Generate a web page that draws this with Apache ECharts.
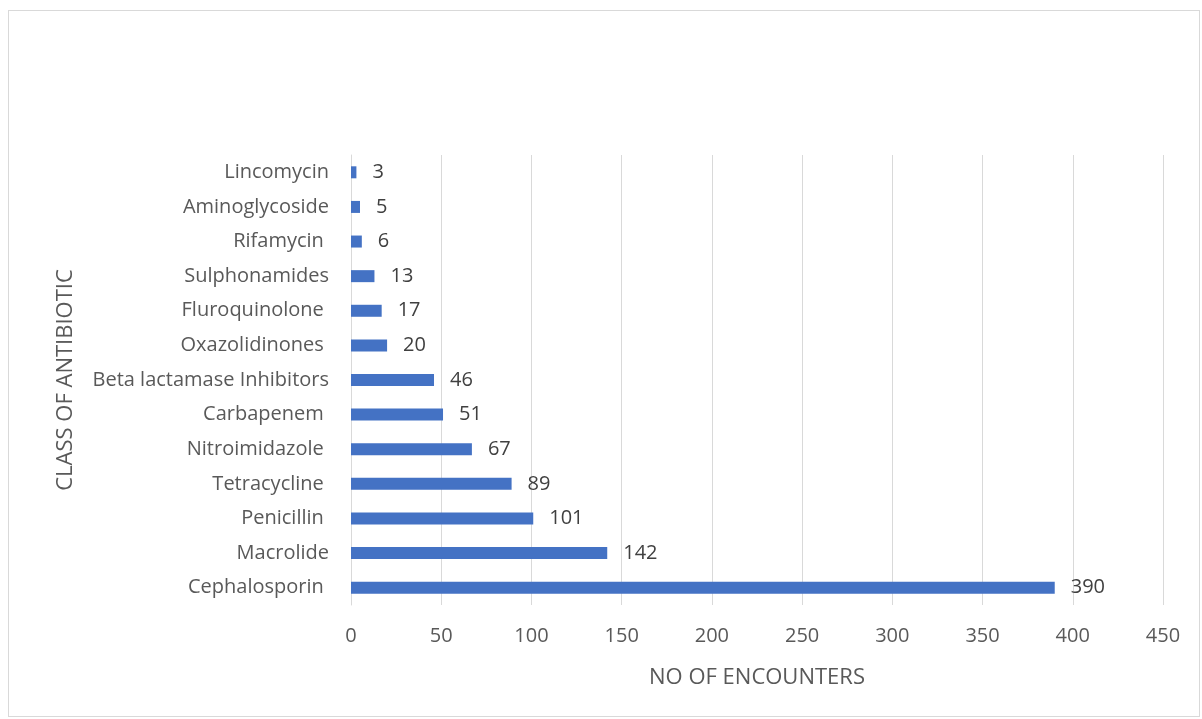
<!DOCTYPE html>
<html>
<head>
<meta charset="utf-8">
<script src="https://cdn.jsdelivr.net/npm/echarts@6/dist/echarts.min.js"></script>
<style>
  html, body { margin: 0; padding: 0; background: #fff; }
  #frame { position: absolute; left: 8px; top: 10px; width: 1192px; height: 707px; border: 1px solid #d9d9d9; box-sizing: border-box; }
  #chart { width: 1202px; height: 719px; }
</style>
</head>
<body>
<div id="frame"></div>
<div id="chart"></div>
<script>
// bottom to top, as drawn
var categories = ['Cephalosporin ', 'Macrolide', 'Penicillin ', 'Tetracycline ', 'Nitroimidazole ',
    'Carbapenem ', 'Beta lactamase Inhibitors', 'Oxazolidinones ', 'Fluroquinolone ',
    'Sulphonamides', 'Rifamycin ', 'Aminoglycoside', 'Lincomycin'];
var encounters = [390, 142, 101, 89, 67, 51, 46, 20, 17, 13, 6, 5, 3];
var xTicks = [0, 50, 100, 150, 200, 250, 300, 350, 400, 450];

var font = 'Open Sans';
var chart = echarts.init(document.getElementById('chart'));
chart.setOption({
    animation: false,
    grid: { left: 351, right: 39, top: 155, bottom: 114 },
    xAxis: {
        type: 'value',
        min: xTicks[0],
        max: xTicks[xTicks.length - 1],
        interval: 50,
        name: 'NO OF ENCOUNTERS',
        nameLocation: 'middle',
        nameGap: 62,
        nameTextStyle: { fontFamily: font, fontSize: 22, color: '#595959' },
        axisLine: { show: false },
        axisTick: { show: false },
        axisLabel: { fontFamily: font, fontSize: 20, color: '#595959', margin: 21 },
        splitLine: { lineStyle: { color: '#d9d9d9', width: 1 } }
    },
    yAxis: {
        type: 'category',
        data: categories,
        name: 'CLASS OF ANTIBIOTIC',
        nameLocation: 'middle',
        nameGap: 274,
        nameRotate: 90,
        nameTextStyle: { fontFamily: font, fontSize: 22, color: '#595959' },
        axisLine: { lineStyle: { color: '#d9d9d9' } },
        axisTick: { show: false },
        axisLabel: { fontFamily: font, fontSize: 20, color: '#595959', margin: 22 }
    },
    series: [{
        type: 'bar',
        data: encounters,
        barWidth: 12,
        itemStyle: { color: '#4472c4' },
        label: {
            show: true,
            position: 'right',
            distance: 16,
            fontFamily: font,
            fontSize: 20,
            color: '#404040'
        }
    }]
});
</script>
</body>
</html>
